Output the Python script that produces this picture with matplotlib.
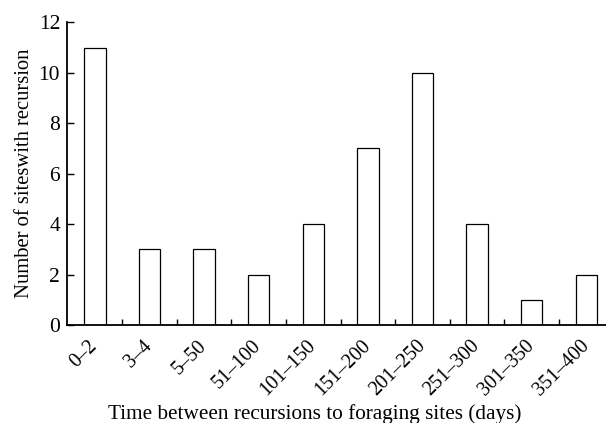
import numpy as np
import matplotlib.pyplot as plt
from matplotlib.ticker import FixedLocator

# Data
categories = ['0–2', '3–4', '5–50', '51–100', '101–150', '151–200',
              '201–250', '251–300', '301–350', '351–400']
counts = [11, 3, 3, 2, 4, 7, 10, 4, 1, 2]

plt.rcParams['font.family'] = ['Liberation Serif', 'DejaVu Serif']

fig = plt.figure(figsize=(6.06, 4.23), dpi=100)
ax = fig.add_axes([0.1106, 0.2317, 0.8894, 0.7156])

x = np.arange(len(categories))
ax.bar(x, counts, width=0.39, color='white', edgecolor='black', linewidth=0.9)

ax.set_xlim(-0.51, 9.36)
ax.set_ylim(0, 12)
ax.set_yticks(range(0, 13, 2))

ax.set_xticks(x)
ax.set_xticklabels(categories, rotation=45, ha='right', va='center',
                   rotation_mode='anchor')
ax.xaxis.set_minor_locator(FixedLocator(x[:-1] + 0.5))
ax.tick_params(axis='x', which='major', length=0, pad=13, labelsize=14.5)
ax.tick_params(axis='x', which='minor', direction='in', length=4, width=1)
ax.tick_params(axis='y', direction='in', length=5, width=1, labelsize=15.5, pad=5)

for side in ['top', 'right']:
    ax.spines[side].set_visible(False)
for side in ['left', 'bottom']:
    ax.spines[side].set_linewidth(1.3)

ax.set_xlabel('Time between recursions to foraging sites (days)', fontsize=15.3)
ax.xaxis.set_label_coords(0.46, -0.262)
ax.set_ylabel('Number of siteswith recursion', fontsize=14.9, labelpad=3)

plt.savefig('out.png', dpi=100)
